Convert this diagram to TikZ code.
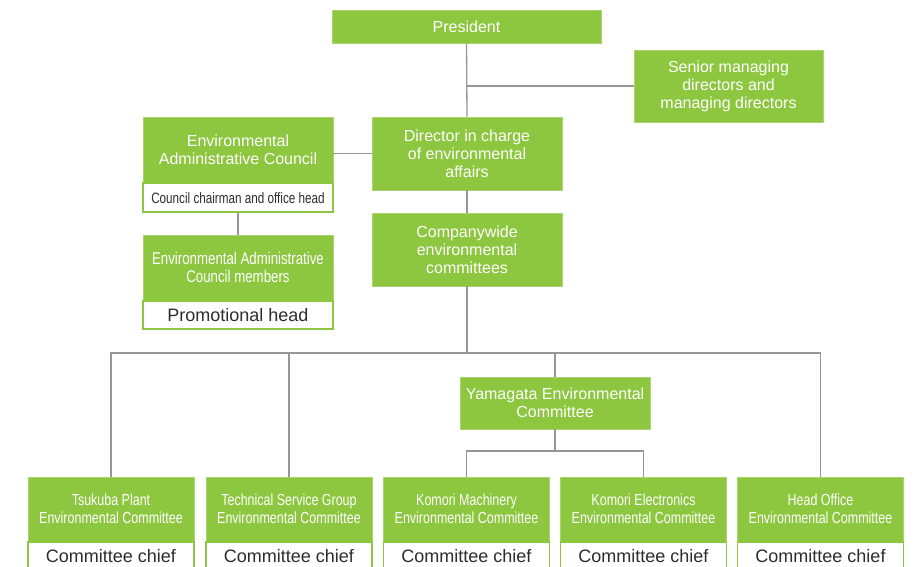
\documentclass[tikz,border=0pt]{standalone}
\usepackage{fontspec}
\setmainfont{Liberation Sans}
\newfontfamily\narrowfont{Liberation Sans}[FakeStretch=0.78]
\definecolor{kgreen}{RGB}{141,198,63}
\definecolor{kline}{RGB}{150,150,150}
\definecolor{ktext}{RGB}{45,45,45}
\tikzset{
  gbox/.style={fill=kgreen, draw=kgreen!75!white, line width=0.8pt, text=white,
    align=center, inner sep=0pt, font=\fontsize{16}{18}\selectfont},
  wbox/.style={fill=white, draw=kgreen, line width=1.5pt, text=ktext,
    align=center, inner sep=0pt, font=\fontsize{18}{19}\selectfont},
  nbox/.style={gbox, font=\narrowfont\fontsize{16}{18.5}\selectfont},
  conn/.style={draw=kline, line width=1.3pt},
}
\begin{document}
\begin{tikzpicture}[x=1pt, y=-1pt]
\useasboundingbox (0,0) rectangle (915,567);
% top part
\node[gbox, minimum width=269pt, minimum height=33pt] (pres) at (466.5,26.5) {President};
\node[gbox, minimum width=189pt, minimum height=72pt] (senior) at (728.5,86) {Senior managing\\directors and\\managing directors};
\node[gbox, minimum width=190pt, minimum height=73pt] (dir) at (467,153.5) {Director in charge\\of environmental\\affairs};
\node[gbox, minimum width=190pt, minimum height=73pt] (cw) at (467,249.5) {Companywide\\environmental\\committees};
% council
\node[gbox, minimum width=190pt, minimum height=65pt] (eac) at (238,149.5) {Environmental\\Administrative Council};
\node[wbox, minimum width=190pt, minimum height=29pt, anchor=north, font=\narrowfont\fontsize{15}{17}\selectfont] (eacw) at (eac.south) {Council chairman and office head};
\node[nbox, minimum width=190pt, minimum height=65pt, font=\narrowfont\fontsize{17}{18}\selectfont] (mem) at (238,267.5) {Environmental Administrative\\Council members};
\node[wbox, minimum width=190pt, minimum height=28pt, anchor=north] (memw) at (mem.south) {Promotional head};
% Yamagata
\node[gbox, minimum width=190pt, minimum height=52pt] (yam) at (555,403) {Yamagata Environmental\\Committee};
% bottom row
\node[nbox, minimum width=166pt, minimum height=64pt] (tsu) at (111,509) {Tsukuba Plant\\Environmental Committee};
\node[nbox, minimum width=166pt, minimum height=64pt] (tech) at (289,509) {Technical Service Group\\Environmental Committee};
\node[nbox, minimum width=166pt, minimum height=64pt] (km) at (466.5,509) {Komori Machinery\\Environmental Committee};
\node[nbox, minimum width=166pt, minimum height=64pt] (ke) at (643.5,509) {Komori Electronics\\Environmental Committee};
\node[nbox, minimum width=166pt, minimum height=64pt] (ho) at (820.5,509) {Head Office\\Environmental Committee};
\foreach \n in {tsu,tech,km,ke,ho}{
  \node[wbox, minimum width=166pt, minimum height=28pt, anchor=north] (\n w) at (\n.south) {Committee chief};
}
% connectors
\coordinate (bus) at (467,353);
\coordinate (bus2) at (555,451);
\draw[conn] (pres.south) -- (dir.north);
\draw[conn] (senior.west) -- (senior.west -| pres.south);
\draw[conn] (dir.west) -- (dir.west -| eac.east);
\draw[conn] (eacw.south) -- (mem.north);
\draw[conn] (dir.south) -- (cw.north);
\draw[conn] (cw.south) -- (bus);
\draw[conn] (tsu.north) |- (bus) -| (ho.north);
\draw[conn] (tech.north) -- (tech.north |- bus);
\draw[conn] (yam.north) -- (yam.north |- bus);
\draw[conn] (yam.south) -- (bus2);
\draw[conn] (km.north) |- (bus2) -| (ke.north);
\end{tikzpicture}
\end{document}
